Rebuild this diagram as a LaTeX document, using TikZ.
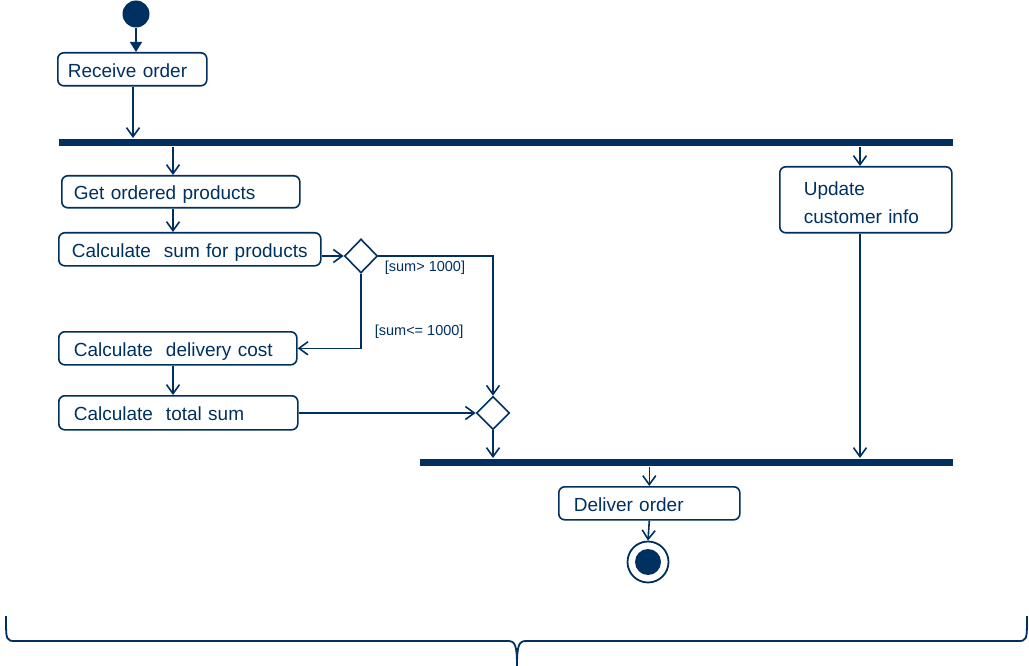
\documentclass[tikz,border=0pt]{standalone}
\usepackage{fontspec}
\setmainfont{Liberation Sans}
\usetikzlibrary{arrows.meta,shapes.geometric}
\definecolor{navy}{RGB}{0,48,96}
\begin{document}
\begin{tikzpicture}[x=1pt,y=-1pt,
  line width=1.7pt,
  flow/.style={draw=navy,line width=1.6pt,-{Straight Barb[length=9pt,width=13pt,line width=1.6pt]}},
  act/.style={draw=navy,line width=1.6pt,rounded corners=6pt,anchor=north west,
    text=navy,align=left,inner ysep=0pt,text height=15.5pt,text depth=0pt,
    font=\fontsize{19}{28}\selectfont},
  bar/.style={fill=navy,draw=none,inner sep=0pt,minimum height=7pt,anchor=north west},
  decision/.style={diamond,draw=navy,line width=1.6pt,inner sep=0pt,aspect=1},
  guard/.style={text=navy,anchor=west,inner sep=0pt,font=\fontsize{14.5}{16}\selectfont}]
\useasboundingbox (0,0) rectangle (1029,666);

% initial node
\node[circle,fill=navy,minimum size=27pt,inner sep=0pt] (start) at (136,14) {};

% actions
\node[act,minimum height=33pt,inner xsep=10pt,text width=129pt] (recv) at (57,52) {Receive order};
\node[bar,minimum width=894pt] (bar1) at (58,138) {};
\node[act,minimum height=32pt,inner xsep=12pt,text width=214pt] (get) at (61,175) {Get ordered products};
\node[act,minimum height=33pt,inner xsep=13pt,text width=236pt] (calc) at (58,232) {Calculate\hspace{0.35em} sum for products};
\node[act,minimum height=33pt,inner xsep=15pt,text width=208pt] (deliv) at (58,331) {Calculate\hspace{0.35em} delivery cost};
\node[act,minimum height=34pt,inner xsep=15pt,text width=209pt] (total) at (58,395) {Calculate\hspace{0.35em} total sum};
\node[act,minimum height=66pt,inner xsep=24pt,text width=124pt,text height=13.6pt,text depth=21.6pt] (upd) at (779,166) {Update\\customer info};
\node[bar,minimum width=533pt] (bar2) at (419,458) {};
\node[act,minimum height=33pt,inner xsep=15pt,text width=151pt] (dlv) at (558,486) {Deliver order};

% decision / merge
\node[decision,minimum width=33pt,minimum height=34pt] (d1) at (361,256) {};
\node[decision,minimum width=33pt,minimum height=33pt] (d2) at (493,413) {};

% final node
\node[circle,draw=navy,line width=1.8pt,minimum size=41pt,inner sep=0pt] (fin) at (648,562) {};
\fill[navy] (fin.center) circle (13);

% guards
\node[guard] (g1) at (384,268) {[sum> 1000]};
\node[guard] (g2) at (374,332) {[sum<= 1000]};

% helper columns
\coordinate (colR) at (133,0);
\coordinate (colA) at (173,0);
\coordinate (colB) at (860,0);

% control flows
\draw[navy,line width=1.6pt,-{Triangle[length=10pt,width=12pt]}] (start.south) -- (start.south |- recv.north);
\draw[flow] (recv.south -| colR) -- (bar1.north -| colR);
\draw[flow] (bar1.south -| colA) -- (get.north -| colA);
\draw[flow] (get.south -| colA) -- (calc.north -| colA);
\draw[flow] (calc.east |- d1.west) -- (d1.west);
\draw[flow] (d1.east) -| (d2.north);
\draw[flow] (d1.south) |- (deliv.east);
\draw[flow] (deliv.south -| colA) -- (total.north -| colA);
\draw[flow] (total.east |- d2.west) -- (d2.west);
\draw[flow] (d2.south) -- (d2.south |- bar2.north);
\draw[flow] (bar1.south -| colB) -- (upd.north -| colB);
\draw[flow] (upd.south -| colB) -- (bar2.north -| colB);
\draw[flow] (bar2.south -| dlv.north) -- (dlv.north);
\draw[flow] (dlv.south) -- (fin.north);

% brace underneath
\draw[navy,line width=1.8pt]
  (6,616) .. controls (6,641) and (6,641) .. (16,641) -- (508,641)
  .. controls (515,641) and (517,645) .. (517,666)
  .. controls (517,645) and (519,641) .. (526,641) -- (1017,641)
  .. controls (1027,641) and (1027,641) .. (1027,616);
\end{tikzpicture}
\end{document}
